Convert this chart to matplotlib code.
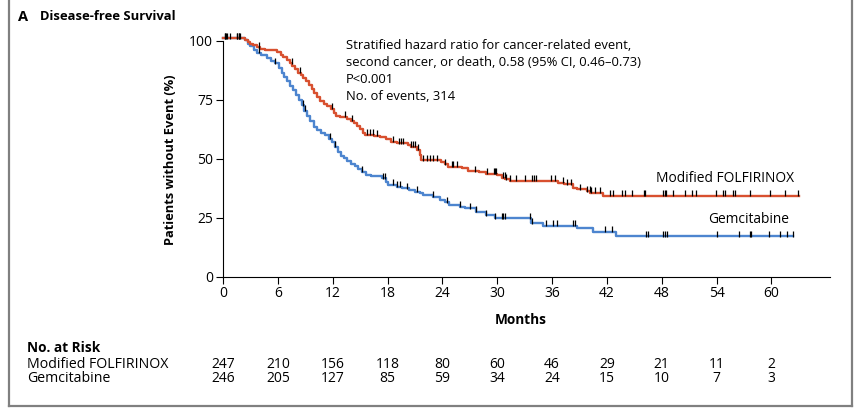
import numpy as np
import matplotlib
matplotlib.use("Agg")
import matplotlib.pyplot as plt
import matplotlib.transforms as mtransforms
from matplotlib.lines import Line2D

plt.rcParams['font.family'] = ['Open Sans', 'DejaVu Sans']
NARROW = ['Liberation Sans Narrow', 'Open Sans', 'DejaVu Sans']

# Kaplan-Meier steps (month, % without event)
folfirinox_t = [0, 2.4, 2.7, 3.0, 3.3, 3.7, 4.1, 4.6, 5.9, 6.3, 6.6, 7.0, 7.3, 7.6, 7.9,
                8.2, 8.5, 8.8, 9.1, 9.4, 9.7, 10.0, 10.3, 10.6, 11.0, 11.4, 11.8, 12.1,
                12.4, 12.8, 13.6, 14.0, 14.3, 14.7, 15.0, 15.3, 15.5, 16.5, 17.2, 17.8,
                18.4, 19.0, 20.2, 20.6, 21.2, 21.5, 21.7, 23.8, 24.3, 24.6, 26.1, 26.8,
                28.0, 28.8, 30.0, 30.5, 30.9, 31.4, 36.6, 37.3, 38.3, 38.7, 39.8, 40.2,
                41.6, 63.0]
folfirinox_s = [101, 100.3, 99.5, 98.6, 98.0, 97.2, 96.6, 96.0, 95.0, 94.0, 93.2, 91.8,
                90.5, 89.2, 88.0, 86.5, 85.3, 84.0, 82.8, 81.2, 79.5, 77.8, 76.0, 74.4,
                73.3, 72.4, 71.2, 69.5, 68.2, 67.7, 67.0, 66.0, 65.0, 63.8, 62.6, 61.0,
                60.2, 59.6, 59.0, 58.2, 57.2, 56.6, 56.0, 55.0, 53.8, 51.5, 49.4, 48.6,
                47.6, 46.6, 45.9, 44.7, 44.2, 43.6, 43.0, 42.0, 41.3, 40.7, 39.8, 39.1,
                37.6, 37.0, 36.2, 35.5, 34.4, 34.4]

gem_t = [0, 2.4, 2.7, 3.0, 3.4, 3.7, 4.2, 4.8, 5.3, 5.7, 6.1, 6.4, 6.7, 7.0, 7.3, 7.7,
         8.0, 8.3, 8.6, 8.9, 9.2, 9.5, 9.9, 10.3, 10.7, 11.2, 11.6, 11.9, 12.2, 12.6,
         12.9, 13.2, 13.6, 14.0, 14.4, 14.8, 15.2, 15.6, 16.2, 17.4, 17.8, 18.0, 19.0,
         19.6, 20.4, 21.0, 21.6, 21.9, 23.0, 23.7, 24.3, 24.7, 25.9, 26.5, 27.7, 28.8,
         29.7, 33.7, 35.0, 38.7, 40.5, 43.0, 62.4]
gem_s = [101, 100.3, 98.6, 97.6, 96.0, 94.8, 93.8, 92.7, 91.6, 90.4, 88.4, 86.3, 84.6,
         82.8, 81.0, 78.9, 77.1, 74.8, 72.6, 70.2, 68.0, 65.8, 63.6, 62.3, 61.0, 60.0,
         58.5, 57.0, 55.0, 53.0, 51.2, 50.2, 49.0, 47.9, 46.8, 45.6, 44.5, 43.3, 42.6,
         41.7, 40.3, 38.9, 38.2, 37.5, 36.9, 36.0, 35.3, 34.6, 33.9, 32.5, 31.5, 30.4,
         29.5, 29.0, 27.5, 26.1, 24.7, 22.6, 21.5, 20.5, 19.1, 17.2, 17.2]

# censored observations (months)
folfirinox_cens = [0.2, 0.3, 0.8, 1.5, 1.7, 1.9, 3.9, 7.5, 8.4, 11.9, 13.3, 14.1, 15.7,
                   16.1, 16.4, 16.8, 18.6, 19.2, 19.5, 19.7, 20.6, 20.8, 21.0, 21.3, 21.9,
                   22.3, 22.6, 23.0, 23.4, 24.3, 25.0, 25.2, 25.6, 27.6, 28.9, 29.6, 29.8,
                   29.9, 30.6, 30.8, 31.0, 31.4, 32.1, 33.0, 33.8, 34.0, 34.2, 35.9, 36.3,
                   37.2, 37.6, 38.1, 39.0, 39.8, 40.1, 40.3, 40.7, 41.2, 42.3, 42.7, 43.6,
                   44.0, 44.7, 46.0, 46.2, 48.1, 48.3, 48.5, 49.2, 50.5, 51.3, 51.7, 53.9,
                   54.7, 54.9, 55.8, 56.0, 57.6, 59.8, 61.5, 62.9]
gem_cens = [0.2, 0.4, 1.5, 1.7, 3.9, 5.7, 8.8, 9.0, 11.7, 12.2, 15.2, 17.5, 17.7, 18.6,
            19.0, 19.4, 20.1, 21.2, 23.0, 24.5, 25.9, 27.0, 27.7, 28.8, 29.7, 30.5, 30.6,
            30.8, 33.6, 33.8, 35.3, 36.1, 36.5, 38.3, 38.5, 41.8, 42.6, 46.3, 46.5, 48.1,
            48.3, 48.6, 54.0, 56.5, 57.6, 57.8, 59.7, 60.9, 61.7, 62.4]

risk_months = [0, 6, 12, 18, 24, 30, 36, 42, 48, 54, 60]
risk_folfirinox = [247, 210, 156, 118, 80, 60, 46, 29, 21, 11, 2]
risk_gem = [246, 205, 127, 85, 59, 34, 24, 15, 10, 7, 3]

RED = "#d8502f"
BLUE = "#4d85cf"

W, H = 860, 409
fig = plt.figure(figsize=(W / 100, H / 100), dpi=100)
ax = fig.add_axes([223 / W, (H - 276.7) / H, (830 - 223) / W, (276.7 - 40.7) / H])
ax.set_xlim(0, 66.4)
ax.set_ylim(0, 100)


def step_value(t, s, x):
    i = np.searchsorted(t, x, side="right") - 1
    return np.asarray(s)[i]


for t, s, cens, col in [(gem_t, gem_s, gem_cens, BLUE),
                        (folfirinox_t, folfirinox_s, folfirinox_cens, RED)]:
    ax.step(t, s, where="post", color=col, lw=1.7, clip_on=False, zorder=3)
    cy = step_value(t, s, cens)
    ax.plot(cens, cy + 1.1, ls="none", marker="|", ms=4.5, mew=0.9, color="black",
            clip_on=False, zorder=4)

for side in ["top", "right"]:
    ax.spines[side].set_visible(False)
ax.spines["left"].set_bounds(0, 100)
ax.spines["left"].set_linewidth(0.8)
ax.spines["bottom"].set_linewidth(0.8)
ax.set_xticks(risk_months)
ax.set_yticks([0, 25, 50, 75, 100])
ax.tick_params(length=5, width=0.8, labelsize=10, pad=2)
for lab in ax.get_xticklabels() + ax.get_yticklabels():
    lab.set_family(NARROW)

fig.text(170 / W, 1 - 160 / H, "Patients without Event (%)", rotation=90, ha="center",
         va="center", fontsize=9.3, fontweight="bold")
fig.text(521 / W, 1 - 320 / H, "Months", ha="center", va="center", fontsize=9.8,
         fontweight="bold", family=NARROW)

fig.text(18 / W, 1 - 17 / H, "A", ha="left", va="center", fontsize=10.5, fontweight="bold")
fig.text(40 / W, 1 - 17 / H, "Disease-free Survival", ha="left", va="center",
         fontsize=9.4, fontweight="bold")

note = ["Stratified hazard ratio for cancer-related event,",
        "second cancer, or death, 0.58 (95% CI, 0.46\u20130.73)",
        "P<0.001",
        "No. of events, 314"]
for i, line in enumerate(note):
    fig.text(346 / W, 1 - (45.7 + i * 16.8) / H, line, ha="left", va="center", fontsize=9.4)

ax.text(62.5, 41.8, "Modified FOLFIRINOX", ha="right", va="center", fontsize=9.9)
ax.text(61.9, 24.4, "Gemcitabine", ha="right", va="center", fontsize=9.9)

# number at risk table
trans = mtransforms.blended_transform_factory(ax.transData, fig.transFigure)
fig.text(27 / W, 1 - 348 / H, "No. at Risk", ha="left", va="center", fontsize=9.8,
         fontweight="bold", family=NARROW)
fig.text(27 / W, 1 - 364 / H, "Modified FOLFIRINOX", ha="left", va="center",
         fontsize=10.2, family=NARROW)
fig.text(27 / W, 1 - 379 / H, "Gemcitabine", ha="left", va="center", fontsize=10.2,
         family=NARROW)
for m, a, b in zip(risk_months, risk_folfirinox, risk_gem):
    ax.text(m, 1 - 364 / H, str(a), transform=trans, ha="center", va="center",
            fontsize=10, family=NARROW)
    ax.text(m, 1 - 379 / H, str(b), transform=trans, ha="center", va="center",
            fontsize=10, family=NARROW)

# panel frame
fc = "#808080"
fig.add_artist(Line2D([9 / W, 9 / W], [1 - 406 / H, 1], color=fc, lw=1.6))
fig.add_artist(Line2D([852 / W, 852 / W], [1 - 406 / H, 1], color=fc, lw=1.6))
fig.add_artist(Line2D([9 / W, 852 / W], [1 - 406 / H, 1 - 406 / H], color=fc, lw=1.6))

fig.savefig("out.png", dpi=100)
